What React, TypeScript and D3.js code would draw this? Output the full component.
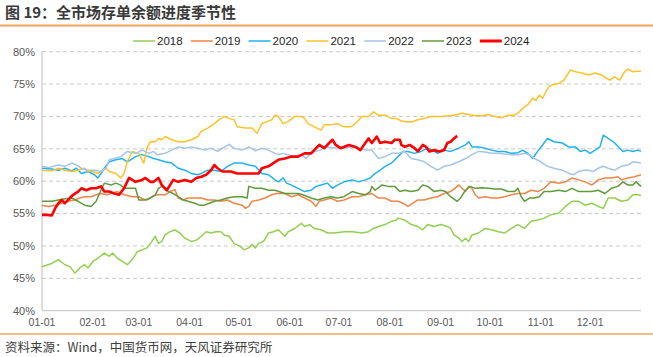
import React from 'react';
import * as d3 from 'd3';

type P = [number, number];

const years = ['2018', '2019', '2020', '2021', '2022', '2023', '2024'];
const colors = ['#92D050', '#F0864A', '#1FB2EE', '#FFC22B', '#A4C5E9', '#5F9A3C', '#FF0000'];
const monthLabels = ['01-01', '02-01', '03-01', '04-01', '05-01', '06-01', '07-01', '08-01', '09-01', '10-01', '11-01', '12-01'];
const monthDays = [0, 31, 59, 90, 120, 151, 181, 212, 243, 273, 304, 334];
const yTicks = [40, 45, 50, 55, 60, 65, 70, 75, 80];
const title = '图 19：全市场存单余额进度季节性';
const source = '资料来源：Wind，中国货币网，天风证券研究所';

const s2018: P[] = [[0,46.8],[6,47.3],[10,47.9],[14,47.1],[17,46.8],[20,45.8],[23,46.6],[26,47.1],[28,46.6],[31,47.6],[34,48.1],[38,48.9],[41,48.4],[43,48.9],[46,48.1],[49,47.6],[52,47.1],[55,47.9],[58,49.1],[61,49.4],[64,49.7],[67,50.7],[69,51.5],[71,50.4],[73,50.7],[75,51.7],[78,52.2],[81,52.5],[84,52.0],[87,51.2],[91,50.7],[94,50.9],[97,51.5],[100,52.2],[103,52.0],[106,52.2],[109,52.2],[111,51.7],[114,51.5],[117,50.4],[121,49.9],[123,49.4],[126,49.7],[128,50.2],[130,49.7],[132,50.4],[135,50.7],[138,52.0],[141,52.2],[144,52.5],[146,52.0],[148,51.5],[150,52.2],[154,52.7],[158,53.5],[160,53.0],[163,53.3],[166,52.7],[170,52.5],[174,52.0],[178,52.0],[184,52.2],[189,52.2],[195,52.0],[199,52.2],[202,52.7],[205,53.0],[209,53.3],[213,53.8],[216,54.0],[217,54.3],[221,54.0],[225,53.3],[229,53.0],[232,52.5],[235,53.3],[239,53.0],[243,53.3],[247,53.0],[249,52.7],[251,51.7],[254,51.2],[256,50.7],[258,51.2],[260,50.7],[262,51.7],[266,52.0],[270,52.7],[274,52.5],[278,52.2],[282,52.0],[286,52.7],[290,53.3],[294,52.7],[298,53.8],[302,54.0],[306,54.3],[310,54.8],[315,55.1],[319,56.1],[323,56.9],[327,56.9],[331,56.3],[335,56.6],[339,56.1],[342,55.8],[345,57.4],[349,57.4],[353,56.9],[357,57.1],[360,57.9],[363,57.9],[365,57.8]];
const s2019: P[] = [[0,56.3],[4,56.1],[8,56.3],[12,56.6],[16,56.9],[20,57.1],[23,57.4],[26,57.6],[30,57.6],[33,57.9],[36,58.1],[40,57.9],[43,58.2],[46,58.4],[50,57.9],[55,57.6],[59,57.6],[61,57.3],[64,57.1],[67,57.6],[70,57.9],[75,57.9],[78,58.4],[81,58.7],[83,57.4],[86,57.1],[89,57.4],[93,57.4],[97,57.4],[101,57.1],[105,57.1],[109,56.9],[113,57.1],[117,56.6],[122,56.3],[124,55.8],[126,56.1],[128,56.9],[132,57.1],[136,57.4],[140,57.9],[143,58.1],[148,58.1],[152,57.6],[156,57.9],[160,57.4],[164,56.9],[167,56.1],[169,56.9],[172,57.1],[176,57.4],[180,56.9],[184,57.1],[189,57.6],[193,57.6],[197,57.9],[201,58.1],[205,57.4],[209,57.4],[213,56.9],[217,56.9],[220,56.6],[223,56.1],[226,56.6],[229,57.1],[233,57.1],[237,57.4],[241,57.6],[245,58.1],[249,58.4],[254,59.4],[256,58.9],[258,58.4],[260,59.2],[262,58.9],[264,57.9],[266,57.4],[270,57.6],[274,57.4],[278,57.4],[282,57.6],[286,57.9],[290,58.1],[294,58.1],[298,58.6],[302,58.4],[306,58.9],[310,59.9],[315,59.7],[319,59.9],[323,60.5],[327,60.2],[331,59.9],[335,59.4],[339,60.2],[343,60.5],[347,60.5],[351,60.7],[353,60.2],[357,60.5],[361,60.7],[365,61.0]];
const s2020: P[] = [[0,62.0],[6,61.9],[10,61.7],[14,62.0],[18,61.6],[21,62.0],[24,61.2],[28,61.5],[32,61.0],[34,60.5],[36,61.2],[38,62.0],[41,63.0],[45,63.3],[49,63.5],[52,63.0],[57,63.8],[61,64.1],[65,63.8],[68,63.5],[71,63.3],[75,63.0],[79,62.8],[83,62.0],[87,61.7],[91,61.2],[95,61.0],[97,61.2],[101,61.7],[105,61.7],[109,61.5],[113,62.3],[117,62.8],[122,62.8],[126,62.5],[130,62.3],[134,61.2],[138,61.0],[142,60.2],[144,59.9],[147,60.5],[149,59.7],[152,59.4],[156,58.9],[160,58.4],[164,58.6],[167,59.2],[170,59.4],[174,59.7],[177,58.9],[180,59.4],[184,59.9],[189,60.2],[193,59.9],[197,60.2],[200,60.5],[202,61.0],[205,61.5],[209,62.3],[213,62.8],[215,63.3],[217,63.8],[220,64.6],[223,64.6],[227,64.3],[231,64.6],[235,65.1],[238,64.8],[241,64.3],[245,64.8],[249,64.6],[254,65.1],[258,65.6],[260,66.1],[262,65.3],[266,65.3],[270,65.1],[274,64.8],[278,64.6],[282,64.6],[286,64.3],[290,64.4],[293,64.8],[296,64.3],[299,63.5],[302,64.6],[305,65.6],[308,66.6],[312,66.1],[317,65.9],[321,65.3],[325,65.3],[328,64.6],[331,64.8],[334,64.3],[337,64.8],[340,65.3],[342,67.1],[345,66.6],[349,65.9],[354,64.6],[357,64.8],[360,64.6],[363,64.8],[365,64.6]];
const s2021: P[] = [[0,61.7],[6,61.6],[10,62.0],[14,61.7],[18,61.5],[22,61.7],[26,62.0],[28,61.5],[31,61.5],[34,61.2],[37,61.7],[39,62.0],[41,61.5],[45,61.2],[48,60.5],[50,61.2],[52,63.0],[55,64.6],[59,64.3],[62,62.8],[64,65.1],[66,66.1],[69,66.1],[71,66.6],[73,66.4],[75,66.9],[79,66.4],[83,66.1],[87,66.1],[91,66.4],[95,66.9],[97,67.7],[101,68.2],[105,68.9],[108,69.5],[111,70.0],[114,69.7],[117,69.5],[119,68.4],[124,68.2],[128,68.2],[131,67.4],[134,68.9],[137,69.2],[140,69.5],[142,70.2],[144,70.0],[147,68.9],[150,69.2],[154,70.0],[158,70.0],[160,69.7],[162,68.9],[166,68.4],[170,67.9],[172,68.7],[176,68.7],[180,68.9],[184,68.4],[188,68.4],[191,68.9],[195,70.0],[199,70.0],[202,70.7],[205,70.2],[209,70.2],[213,69.7],[216,69.7],[219,69.3],[225,69.1],[229,69.5],[233,69.7],[237,70.0],[243,70.0],[247,70.1],[251,70.2],[256,70.5],[260,70.3],[264,70.1],[268,70.1],[272,70.3],[276,70.0],[280,69.8],[284,70.2],[288,70.2],[290,70.5],[292,71.0],[294,71.5],[296,71.8],[299,72.8],[301,72.5],[303,73.3],[305,72.8],[307,73.8],[309,74.6],[311,74.9],[315,75.1],[318,75.6],[320,76.4],[322,77.2],[325,76.9],[329,76.7],[333,76.4],[337,76.7],[341,76.4],[344,75.9],[346,75.6],[349,76.1],[352,75.6],[355,76.9],[357,77.3],[360,76.9],[363,77.0],[365,77.0]];
const s2022: P[] = [[0,62.3],[4,62.1],[10,62.5],[14,62.3],[18,62.8],[21,62.5],[24,62.0],[28,61.7],[32,61.7],[36,61.5],[39,62.0],[41,63.3],[44,63.5],[48,63.8],[52,64.6],[57,64.3],[61,64.8],[65,64.3],[68,64.6],[70,64.1],[75,64.3],[79,64.8],[83,65.3],[87,65.1],[91,65.3],[95,65.1],[99,64.8],[103,65.1],[107,64.6],[110,65.1],[114,65.7],[117,65.1],[122,64.8],[126,65.3],[130,64.7],[134,65.1],[138,64.8],[142,64.3],[144,64.1],[147,64.3],[150,64.1],[154,63.8],[158,64.1],[161,63.5],[163,64.1],[166,64.6],[170,64.8],[172,65.3],[176,65.2],[180,65.1],[184,65.1],[189,65.3],[193,65.1],[197,64.8],[201,64.8],[205,63.5],[209,63.8],[213,64.3],[217,64.3],[221,64.6],[225,63.5],[229,63.3],[233,63.0],[237,62.3],[241,61.7],[245,62.3],[249,62.5],[254,63.0],[258,63.5],[262,64.1],[266,64.6],[270,64.5],[274,64.3],[278,64.3],[282,64.2],[286,64.1],[290,64.1],[294,64.3],[297,64.1],[300,63.5],[304,63.0],[308,62.3],[312,62.0],[317,61.7],[321,61.2],[324,61.0],[327,61.5],[330,61.7],[333,61.7],[336,61.5],[339,62.0],[342,62.3],[345,62.0],[349,61.7],[353,62.3],[357,62.5],[360,63.0],[363,62.9],[365,62.8]];
const s2023: P[] = [[0,56.9],[6,56.9],[10,57.1],[14,57.3],[18,57.4],[22,56.9],[26,56.3],[30,56.1],[33,56.9],[35,58.1],[38,59.7],[42,59.4],[45,59.7],[48,59.4],[50,58.9],[53,58.9],[57,58.9],[59,57.1],[63,57.1],[66,57.4],[69,57.9],[71,58.9],[73,59.2],[75,58.9],[77,58.4],[80,58.1],[83,57.6],[86,57.1],[89,56.9],[93,56.6],[96,56.3],[99,56.3],[102,56.6],[105,56.9],[109,57.1],[113,57.4],[117,57.6],[122,57.6],[125,57.4],[126,59.2],[130,58.9],[134,58.9],[138,58.6],[142,58.6],[148,58.1],[152,58.1],[156,58.1],[159,57.9],[162,57.6],[164,57.4],[168,57.1],[172,57.4],[176,57.6],[180,57.4],[184,57.6],[189,58.4],[193,58.1],[197,57.9],[200,58.4],[201,59.2],[203,58.6],[207,59.4],[211,59.2],[215,59.2],[218,58.4],[221,58.6],[225,58.4],[229,58.6],[232,59.4],[235,59.2],[239,58.4],[243,58.6],[246,58.4],[249,57.6],[253,56.9],[255,57.4],[258,58.6],[261,59.2],[264,58.9],[268,59.0],[272,58.9],[276,58.8],[280,58.8],[284,58.4],[288,58.4],[290,58.9],[292,57.6],[294,56.9],[297,57.4],[300,57.4],[303,57.6],[306,58.4],[310,58.4],[315,58.6],[319,58.4],[323,58.9],[327,58.4],[331,58.4],[335,58.4],[339,58.6],[343,58.1],[347,58.9],[351,59.2],[354,59.9],[357,59.4],[360,59.4],[362,59.9],[365,59.2]];
const s2024: P[] = [[0,54.8],[3,54.8],[6,54.7],[8,55.8],[10,56.6],[12,57.1],[14,56.6],[17,57.4],[19,57.9],[22,58.4],[24,58.9],[27,58.6],[30,58.9],[33,58.9],[36,59.2],[38,58.4],[41,58.4],[44,58.1],[47,57.9],[50,58.9],[53,60.5],[57,59.9],[61,60.2],[63,60.5],[66,59.9],[68,59.9],[71,60.5],[73,59.4],[76,58.6],[78,59.4],[80,60.2],[83,59.9],[87,60.2],[91,59.9],[94,60.5],[97,60.7],[100,61.0],[103,61.7],[105,62.5],[107,62.0],[110,61.5],[115,61.5],[119,61.2],[124,61.2],[128,61.2],[132,61.2],[134,62.0],[138,62.3],[141,62.8],[144,63.3],[148,63.5],[152,63.8],[156,63.8],[160,64.3],[164,64.3],[167,65.1],[169,65.6],[172,65.1],[175,65.9],[177,66.4],[179,65.6],[182,65.1],[187,65.6],[191,65.3],[194,64.8],[197,65.9],[199,66.6],[201,65.9],[204,66.9],[206,65.9],[209,66.1],[213,65.9],[215,66.4],[218,66.4],[219,65.6],[221,65.3],[224,65.6],[227,65.1],[229,64.6],[232,65.6],[234,65.3],[236,64.6],[239,64.8],[242,64.6],[245,64.8],[247,65.9],[249,66.1],[251,66.6],[253,67.0]];

const seriesData = [s2018, s2019, s2020, s2021, s2022, s2023, s2024];

const W = 653;
const H = 357;
const plotLeft = 42;
const plotRight = 641;
const plotTop = 51.7;
const plotBottom = 310.7;
const latin = '"Liberation Sans", Arial, sans-serif';
const cjk = '"Noto Sans CJK SC", "Liberation Sans", sans-serif';

export default function App() {
  const x = d3.scaleLinear().domain([0, 365]).range([plotLeft, plotRight]);
  const y = d3.scaleLinear().domain([40, 80]).range([plotBottom, plotTop]);
  const line = d3.line<P>().x(d => x(d[0])).y(d => y(d[1]));
  const legendX = d3.scaleLinear().domain([0, 1]).range([133, 190.8]);

  return (
    <svg width={W} height={H} style={{ position: 'absolute', left: 0, top: 0, background: '#fff' }}>
      <rect x={0} y={0} width={W} height={H} fill="#fff" />
      <text x={5} y={18} fontFamily={cjk} fontSize={15} fontWeight="bold" fill="#3a3a3a">{title}</text>
      <line x1={0} x2={W} y1={25.5} y2={25.5} stroke="#F0A45E" strokeWidth={2} />

      {yTicks.slice(1).map(t => (
        <line key={'g' + t} x1={plotLeft} x2={plotRight} y1={y(t)} y2={y(t)} stroke="#C9C9C9" strokeWidth={1} strokeDasharray="4,3" />
      ))}
      <line x1={plotLeft} x2={plotLeft} y1={plotTop} y2={plotBottom} stroke="#BFBFBF" strokeWidth={1} />
      <line x1={plotLeft} x2={plotRight} y1={plotBottom} y2={plotBottom} stroke="#BFBFBF" strokeWidth={1} />

      {yTicks.map(t => (
        <text key={'yl' + t} x={35} y={y(t)} dy="0.35em" textAnchor="end" fontFamily={latin} fontSize={11} fill="#595959">{t}%</text>
      ))}
      {monthDays.map((d, i) => (
        <text key={'xl' + i} x={x(d)} y={326} textAnchor="middle" fontFamily={latin} fontSize={10.5} fill="#595959">{monthLabels[i]}</text>
      ))}

      {seriesData.map((s, i) => (
        <path key={'s' + i} d={line(s) || ''} fill="none" stroke={colors[i]} strokeWidth={i === 6 ? 2.6 : 1.5} strokeLinejoin="round" />
      ))}

      {years.map((yr, i) => (
        <g key={'lg' + yr} transform={`translate(${legendX(i)},41)`}>
          <line x1={0} x2={22} y1={0} y2={0} stroke={colors[i]} strokeWidth={i === 6 ? 3 : 1.5} />
          <text x={24} y={0} dy="0.35em" fontFamily={latin} fontSize={11.5} fill="#262626">{yr}</text>
        </g>
      ))}

      <line x1={0} x2={W} y1={334} y2={334} stroke="#F0A45E" strokeWidth={1.5} />
      <text x={5} y={352} fontFamily={cjk} fontSize={12.5} fill="#404040">{source}</text>
    </svg>
  );
}
